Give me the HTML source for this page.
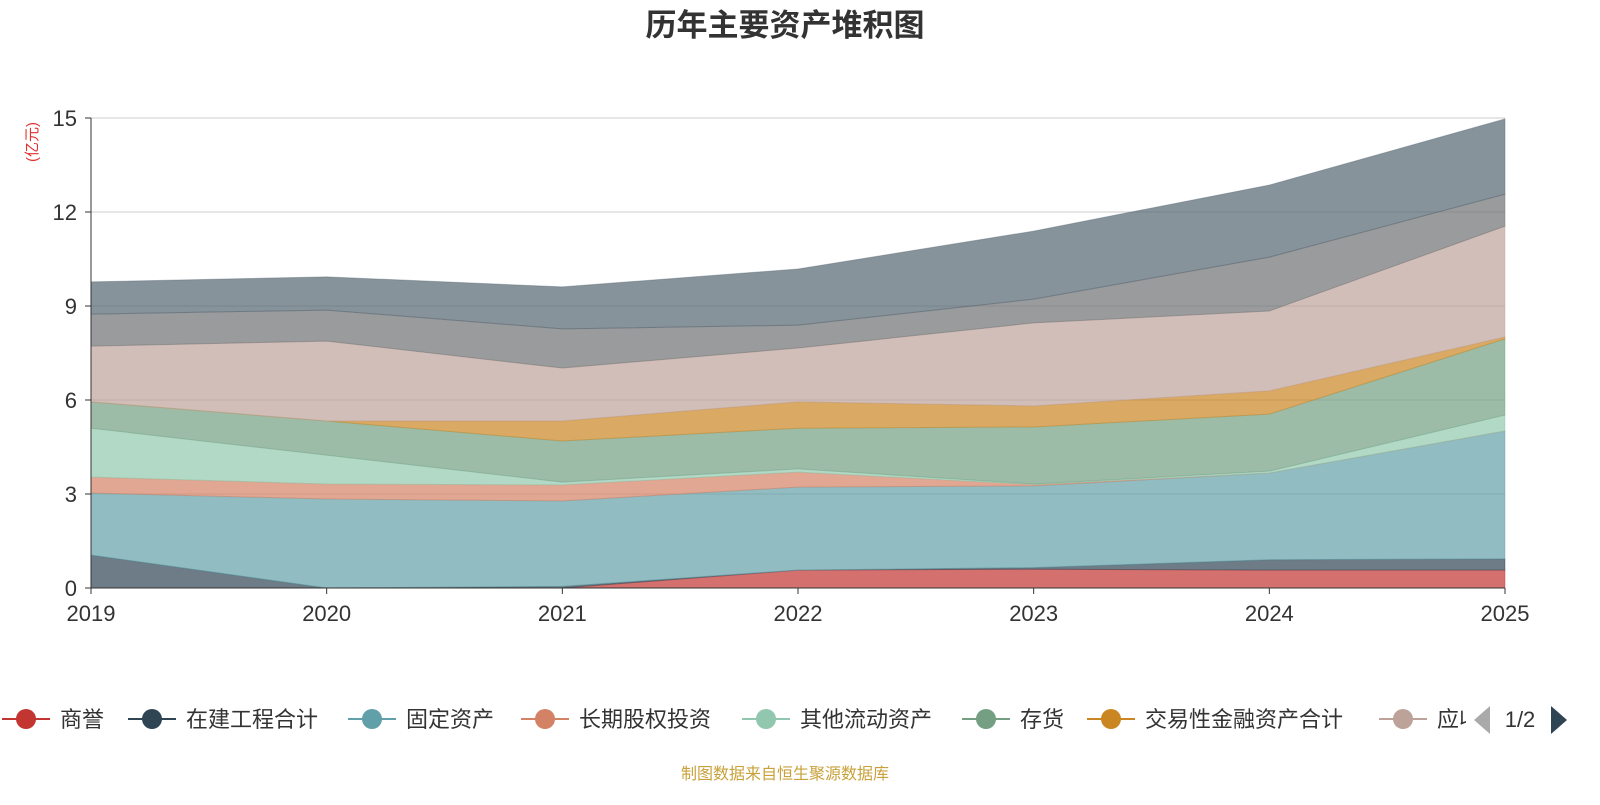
<!DOCTYPE html>
<html><head><meta charset="utf-8"><style>
body{margin:0;background:#fff;font-family:"Liberation Sans","Noto Sans CJK SC",sans-serif;}
svg text{font-family:"Liberation Sans","Noto Sans CJK SC",sans-serif;}
</style></head><body>
<svg id="chart" width="1600" height="800" viewBox="0 0 1600 800" xmlns="http://www.w3.org/2000/svg">
<text x="785" y="36" text-anchor="middle" font-size="31" font-weight="bold" fill="#333">历年主要资产堆积图</text>
<text transform="translate(37,142) rotate(-90)" text-anchor="middle" font-size="15" fill="#e03030">(亿元)</text>
<g id="grid"></g><g id="areas"></g><g id="axes"></g>
<g id="legend"></g>
<text x="785" y="779" text-anchor="middle" font-size="16" fill="#c8a13a">制图数据来自恒生聚源数据库</text>
</svg>
<script>
const years=["2019","2020","2021","2022","2023","2024","2025"];
const yTicks=[0,3,6,9,12,15];
const seriesNames=["商誉","在建工程合计","固定资产","长期股权投资","其他流动资产","存货","交易性金融资产合计","应收账款","货币资金","其他资产"];
const seriesColors=["#c23531","#2f4554","#61a0a8","#d48265","#91c7ae","#749f83","#ca8622","#bda29a","#6e7074","#546570"];
const s0=[0,0,0,0.57,0.6,0.57,0.57];
const s1=[1.05,0,0.05,0,0.05,0.33,0.36];
const s2=[1.98,2.84,2.73,2.65,2.61,2.77,4.08];
const s3=[0.51,0.48,0.51,0.48,0.04,0,0];
const s4=[1.56,0.92,0.09,0.1,0.02,0.06,0.51];
const s5=[0.84,1.09,1.31,1.3,1.82,1.82,2.43];
const s6=[0,0,0.64,0.84,0.67,0.74,0.06];
const s7=[1.78,2.55,1.69,1.72,2.65,2.55,3.54];
const s8=[1.02,0.99,1.25,0.73,0.76,1.72,1.02];
const s9=[1.03,1.06,1.34,1.79,2.17,2.3,2.4];
const series=[s0,s1,s2,s3,s4,s5,s6,s7,s8,s9];
const NS="http://www.w3.org/2000/svg";
const X0=91,X1=1505,Y0=588,Y1=118,YMAX=15;
const xs=i=>X0+(X1-X0)*i/(years.length-1);
const ys=v=>Y0-(Y0-Y1)*v/YMAX;
function mk(t,a,p){const e=document.createElementNS(NS,t);for(const k in a)e.setAttribute(k,a[k]);p.appendChild(e);return e;}
const grid=document.getElementById('grid'),axes=document.getElementById('axes'),areas=document.getElementById('areas'),legend=document.getElementById('legend');
yTicks.forEach(t=>{
  if(t>0){const l=mk('line',{x1:X0,x2:X1,y1:ys(t),y2:ys(t),stroke:'#ccc','stroke-width':1},grid);
  
  }
  const tk=mk('line',{x1:X0-6,x2:X0,y1:ys(t),y2:ys(t),stroke:'#333'},axes);
  
  
  const tx=mk('text',{x:X0-14,y:ys(t)+8,'text-anchor':'end','font-size':22,fill:'#333'},axes);
  tx.textContent=t;
  
  
});
let base=years.map(()=>0);
series.forEach((s,k)=>{
  const top=base.map((b,i)=>b+s[i]);
  let d='M'+top.map((v,i)=>xs(i)+','+ys(v)).join('L');
  for(let i=years.length-1;i>=0;i--)d+='L'+xs(i)+','+ys(base[i]);
  const p=mk('path',{d:d+'Z',fill:seriesColors[k],'fill-opacity':0.7,stroke:seriesColors[k],'stroke-opacity':0.4,'stroke-width':1},areas);
  
  
  base=top;
});
const ya=mk('line',{x1:X0,x2:X0,y1:Y1,y2:Y0,stroke:'#333'},axes);


const xa=mk('line',{x1:X0,x2:X1,y1:Y0,y2:Y0,stroke:'#333'},axes);


years.forEach((y,i)=>{
  const tk=mk('line',{x1:xs(i),x2:xs(i),y1:Y0,y2:Y0+6,stroke:'#333'},axes);
  
  
  const tx=mk('text',{x:xs(i),y:Y0+33,'text-anchor':'middle','font-size':22,fill:'#333'},axes);
  tx.textContent=y;
  
  
});
const lx=[26,152,372,545,766,986,1111,1403];
const clip=mk('clipPath',{id:'lc'},legend);mk('rect',{x:0,y:690,width:1466,height:60},clip);
const lg=mk('g',{'clip-path':'url(#lc)'},legend);
lx.forEach((x,k)=>{
  const g=mk('g',{},lg);
  
  
  mk('line',{x1:x-24,x2:x+24,y1:719,y2:719,stroke:seriesColors[k],'stroke-width':2},g);
  mk('circle',{cx:x,cy:719,r:10,fill:seriesColors[k]},g);
  const t=mk('text',{x:x+34,y:727,'font-size':22,fill:'#333'},g);t.textContent=seriesNames[k];
});
const pl=mk('path',{d:'M1490,706L1490,734L1474,720Z',fill:'#aaa'},legend);


const pt=mk('text',{x:1520,y:727,'text-anchor':'middle','font-size':22,fill:'#333'},legend);pt.textContent='1/2';


const pr=mk('path',{d:'M1551,706L1551,734L1567,720Z',fill:'#2f4554'},legend);


</script>
</body></html>
